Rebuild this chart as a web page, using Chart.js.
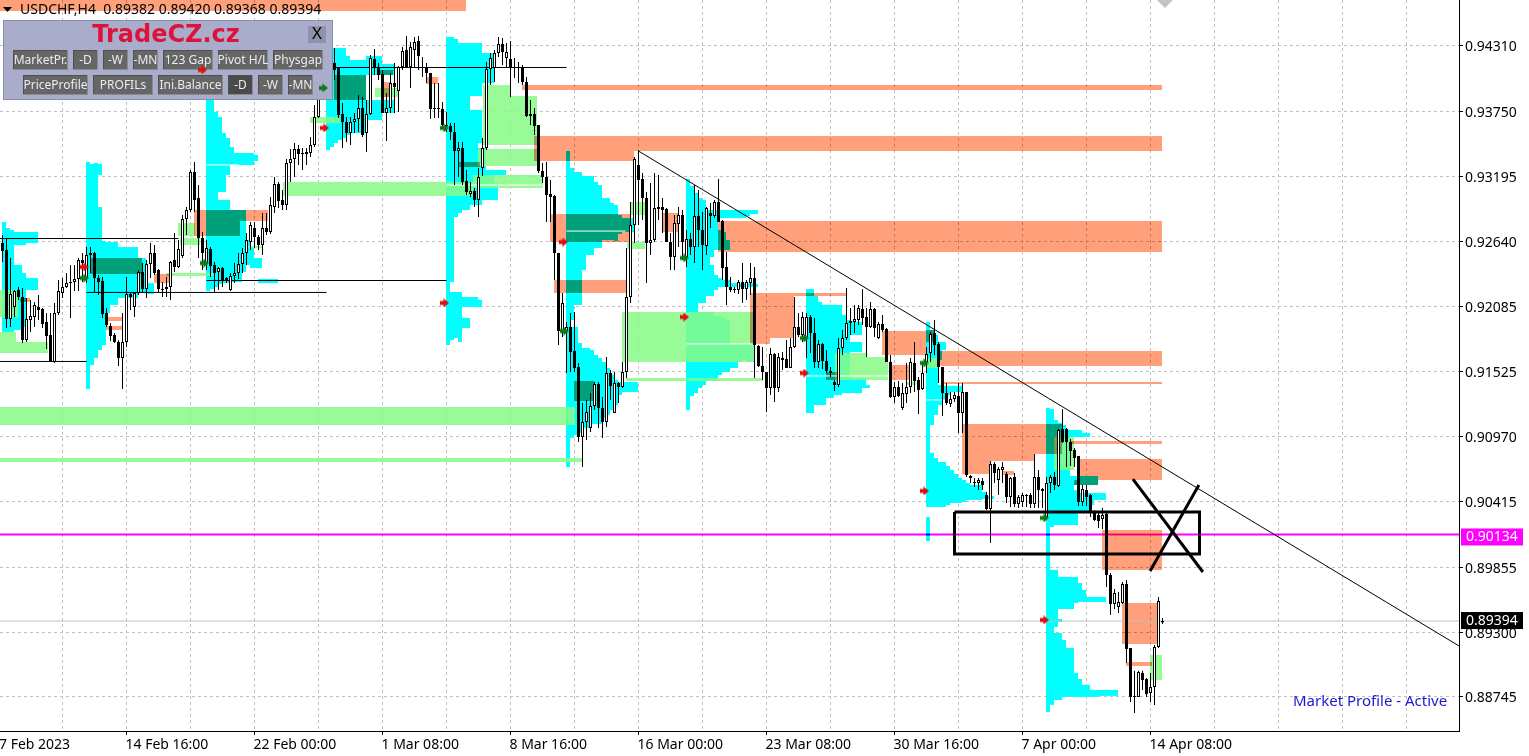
<!DOCTYPE html>
<html>
<head>
<meta charset="utf-8">
<title>USDCHF,H4</title>
<script src="https://cdn.jsdelivr.net/npm/chart.js@4"></script>
<style>
html, body { margin: 0; padding: 0; background: #fff; overflow: hidden; }
canvas { display: block; }
</style>
</head>
<body>
<canvas id="chart" width="1529" height="756"></canvas>
<script>
// all prices below are in points, 1 point = 0.00001
var opens = [92625,92566,91976,92079,92224,92164,91797,91968,91993,92079,92062,91951,91839,91609,92027,92198,92249,92283,92292,92318,92480,92326,92523,92540,92326,92300,92027,91917,91839,91780,91643,91780,92190,92079,92198,92378,92232,92446,92540,92395,92232,92249,92249,92480,92421,92515,92831,92908,93233,93010,92668,92454,92574,92438,92378,92412,92326,92224,92344,92369,92446,92540,92634,92754,92677,92608,92754,92720,92933,93130,92993,92951,93309,93343,93429,93395,93387,93395,93463,93703,93865,94002,94105,94164,94122,93729,93660,93566,93660,93686,93780,93566,93729,94199,94130,94071,93737,93780,93993,93925,94130,94276,94130,94276,94352,94130,94130,94079,93780,93780,93771,93634,93626,93575,93412,93438,93155,93045,93070,92993,93267,93438,94113,94122,94250,94327,94207,94199,94130,94130,94130,94002,93729,93729,93634,93241,93190,93045,93027,92540,91873,91873,91908,91702,91566,90968,91096,91045,91233,91421,91215,91096,91514,91172,91429,91395,91523,92164,92780,93292,93173,93010,92625,92651,92933,92933,92916,92634,92506,92788,92865,92506,92660,92591,92856,92737,92600,92882,92856,92976,92814,92421,92249,92232,92224,92292,92232,92283,92326,91745,91575,91523,91386,91677,91386,91643,91634,91557,91737,91908,91839,91814,91993,91856,91609,91763,91617,91531,91438,91412,91728,91814,91942,91951,91968,92062,91993,91908,92062,91814,91934,91891,91609,91310,91395,91215,91335,91395,91600,91455,91378,91609,91685,91856,91763,91566,91343,91250,91292,91318,91172,91352,90634,90574,90574,90591,90471,90351,90737,90600,90685,90651,90454,90625,90394,90412,90471,90471,90394,90625,90523,90283,90574,90625,90548,91036,91036,90925,90856,90805,90412,90514,90471,90326,90300,90266,90309,89788,89540,89514,89548,89711,89164,88754,88745,88950,88899,88779,88830,89172,89382];
var highs = [92694,92668,92497,92224,92249,92241,92156,92139,92122,92181,92071,92027,92027,92113,92309,92326,92369,92438,92438,92497,92540,92591,92591,92549,92352,92335,92071,91942,91856,91797,92027,92335,92207,92207,92395,92454,92480,92625,92608,92403,92292,92335,92472,92711,92651,92865,92933,93250,93318,93121,92720,92651,92591,92463,92421,92421,92335,92369,92454,92540,92583,92711,92805,92805,92694,92882,92882,93019,93190,93147,93079,93343,93429,93480,93463,93438,93438,93532,93805,93891,94036,94139,94207,94293,94130,93822,93703,93703,93737,93891,93874,93848,94233,94284,94164,94105,93908,94079,94164,94139,94301,94395,94344,94387,94395,94216,94164,94079,93993,93993,93831,93746,93651,93651,93489,93489,93250,93147,93096,93267,93523,94173,94250,94276,94387,94378,94335,94352,94207,94173,94147,94045,93848,93780,93634,93309,93318,93164,93036,92540,92198,91951,92027,92036,91600,91258,91284,91343,91438,91438,91310,91652,91540,91523,91438,91609,92583,92976,93361,93421,93224,93062,93139,93224,93207,93010,92925,92711,92865,92933,92908,92737,92711,93121,93079,92890,92933,92968,92993,93173,92822,92549,92335,92249,92309,92454,92309,92454,92421,91754,91737,91523,91728,91685,91685,91694,91797,91814,92164,92027,92036,92027,92010,91985,91797,91771,91711,91566,91455,91814,91882,92241,92071,92096,92096,92232,92071,92122,92071,91951,92010,91899,91668,91438,91446,91429,91600,91643,91780,91480,91600,91737,91865,91968,91780,91566,91429,91352,91352,91429,91429,91352,90643,90617,90617,90617,90497,90762,90754,90711,90754,90668,90625,90659,90471,90488,90480,90488,90822,90685,90531,90625,90643,90668,91036,91207,91045,90950,90873,90805,90557,90557,90480,90343,90317,90360,90317,89805,89668,89642,89728,89745,89164,88968,88968,88968,88907,88950,89189,89599,89420];
var lows = [92463,91899,91908,91993,92139,91771,91780,91865,91908,91968,91899,91720,91617,91600,92010,92156,92241,91985,92215,92215,92292,92283,92369,92198,92181,91985,91908,91788,91771,91575,91378,91737,92053,91993,92181,92207,92156,92326,92352,92207,92164,92164,92139,92378,92412,92497,92694,92890,92890,92497,92395,92395,92335,92207,92224,92249,92283,92215,92283,92318,92369,92438,92566,92583,92566,92523,92694,92703,92882,92925,92908,92908,93147,93190,93292,93250,93292,93361,93446,93694,93857,93934,94019,94019,93694,93438,93489,93463,93566,93575,93532,93404,93720,94062,94019,93737,93498,93737,93737,93746,94105,94122,93951,94122,94105,94045,93993,93686,93694,93694,93609,93575,93506,93121,93190,93121,93036,93019,92933,92848,93198,93421,93976,94002,94216,94147,94130,93874,94036,93993,93976,93703,93634,93549,93224,93139,92805,92805,92309,91754,91822,91514,91523,91523,90925,90711,90942,91010,91198,91045,90959,91053,91284,91172,91258,91386,91472,92113,92625,92780,92822,92283,92523,92634,92822,92711,92634,92395,92395,92591,92480,92421,92523,92454,92591,92395,92523,92754,92839,92805,92309,92096,92207,92198,92190,92113,92139,92181,91472,91566,91455,91181,91326,91267,91352,91540,91557,91557,91728,91822,91780,91643,91685,91557,91557,91549,91514,91480,91360,91395,91668,91797,91839,91856,91925,91925,91651,91899,91822,91805,91865,91609,91301,91258,91310,91198,91258,91343,91352,91164,91369,91514,91609,91668,91429,91147,91241,91224,91267,91001,91001,90625,90574,90540,90514,90514,90343,90061,90574,90471,90574,90403,90369,90369,90360,90369,90369,90360,90360,90360,90360,90275,90488,90514,90540,90916,90711,90719,90711,90377,90377,90377,90283,90249,90190,90181,89685,89446,89497,89463,89540,89035,88702,88608,88745,88805,88745,88702,88677,89164,89368];
var closes = [92557,91976,92190,92215,92164,91797,91976,92002,92096,92053,91934,91831,91617,92027,92215,92249,92283,92292,92318,92480,92454,92523,92540,92326,92292,92019,91925,91831,91780,91643,91780,92190,92164,92198,92378,92232,92446,92540,92369,92232,92224,92232,92463,92421,92574,92831,92908,93233,92993,92668,92540,92583,92429,92369,92412,92309,92300,92344,92369,92446,92540,92651,92780,92677,92608,92754,92720,92951,93130,92985,92951,93309,93343,93429,93387,93387,93404,93463,93703,93865,94002,94105,94164,94105,93720,93660,93566,93660,93686,93780,93549,93729,94207,94122,94062,93737,93780,93993,93959,94130,94267,94130,94301,94344,94224,94122,94079,93771,93771,93771,93634,93626,93575,93412,93438,93147,93062,93070,92993,93190,93438,94113,94207,94250,94327,94259,94259,94122,94122,94122,94002,93711,93711,93626,93241,93190,93036,93019,92540,91873,92113,91908,91694,91557,90968,91096,91181,91233,91421,91215,91096,91514,91404,91429,91395,91523,92164,92780,93343,93164,93010,92625,92651,92925,92916,92908,92634,92506,92797,92865,92634,92660,92591,92856,92737,92608,92925,92856,92976,92805,92412,92249,92224,92224,92292,92232,92292,92326,91754,91575,91523,91386,91677,91386,91652,91626,91557,91737,91908,91839,91993,91993,91856,91609,91763,91617,91531,91514,91412,91728,91814,91942,91959,91976,92071,91985,91908,92062,91899,91934,91882,91609,91310,91395,91318,91343,91395,91609,91446,91369,91514,91677,91848,91754,91566,91343,91258,91292,91326,91172,91352,90643,90617,90583,90600,90557,90351,90737,90659,90694,90711,90454,90617,90394,90454,90471,90463,90394,90625,90514,90506,90574,90625,90557,91027,90925,90925,90848,90788,90412,90523,90454,90326,90258,90249,90300,89788,89540,89634,89557,89711,89156,88745,88745,88959,88890,88771,88830,89172,89565,89394];

var priceTicks = [0.94310,0.93750,0.93195,0.92640,0.92085,0.91525,0.90970,0.90415,0.89855,0.89300,0.88745];
var dateBars = [-0.625,31,63,95,127,159,191,223,255,287];
var dateLabels = ['7 Feb 2023','14 Feb 16:00','22 Feb 00:00','1 Mar 08:00','8 Mar 16:00','16 Mar 00:00','23 Mar 08:00','30 Mar 16:00','7 Apr 00:00','14 Apr 08:00'];
var gridBars = [15,31,47,63,79,95,111,127,143,159,175,191,207,223,239,255,271,287,303,319,335,351];

// [from bar, to bar, top, bottom]
var orangeZones = [[-1,116,94710,94609],[130,290,93976,93934],[133,290,93540,93412],[133,158,93412,93326],[137,157,92874,92634],[138,156,92309,92198],[165,169,92882,92720],[179,290,92814,92549],[187,192,92198,91763],[192,198,92198,91814],[198,211,92198,92173],[220,231,91873,91668],[222,227,91583,91455],[234,290,91702,91575],[235,290,91438,91421],[240,265,91079,90822],[240,258,90822,90762],[240,247,90762,90651],[250,253,90677,90643],[267,290,90933,90908],[269,290,90780,90600],[268,274,90600,90557],[275,290,90173,89831],[280,288.75,89548,89198],[281,287.5,89044,89010],[48,66.5,92908,92814],[48,59.5,92814,92686],[4.5,7,92156,92122],[26,30,91993,91959],[26,30,91917,91882],[22,35,92497,92361],[38,42,92361,92283],[106,109,94045,93985],[94,97.75,94105,94062],[95,97,94002,93874],[83,91,94062,93848],[114,119.5,93318,93275],[206,208.75,91523,91455],[143,148,91446,91275],[231,233.25,91882,91780]];
var greenZones = [[-1,143.25,91224,91070],[-1,145,90788,90754],[-1,11.5,91780,91685],[-1,3.5,91865,91780],[70.25,117.75,93147,93027],[117.75,135.25,93207,93096],[120.25,127,93976,93882],[120.25,133.75,93882,93463],[119,133.75,93429,93284],[155,188.25,92036,91609],[156,190.25,91472,91446],[157,160.75,92976,92865],[156.25,160.75,92634,92574],[208.25,216,91685,91651],[208.25,221.5,91651,91455],[231.25,234,91643,91557],[226,228.5,91438,91412],[263,268,90968,90685],[287,290,89104,88890],[44,48.25,92797,92686],[44.5,49.5,92668,92608],[77,84.5,93703,93651],[41,52.75,92369,92344],[61.5,65,92600,92583],[93.25,99,93951,93874],[-1,4,92224,91993]];

// market profile columns: [from bar, to bar, top, bottom]
var profileBlocks = [
[0,0,92805,91865],[1,1,92754,91865],[2,2,92737,91865],[3,4,92720,92608],[3,4,92438,91882],[5,5,92720,92608],[5,5,92369,91908],[6,8,92720,92625],[6,8,92326,92224],
[21,21,93318,91378],[22,22,93301,91583],[23,23,93310,91643],[24,24,93301,93207],[24,24,92933,91711],[25,25,92643,91754],[26,26,92634,92027],[27,28,92634,92096],[29,33,92591,92156],[34,35,92497,92198],[36,37,92283,92190],
[51,51,93848,92215],[52,52,93848,92232],[53,53,93746,92249],[54,54,93703,93062],[54,54,92993,92275],[55,55,93566,93062],[55,55,92993,92283],[56,56,93523,93207],[56,56,92993,92283],[57,57,93446,93292],[57,59,92908,92292],[58,60,93395,93292],[60,60,92908,92378],[61,62,93395,93292],[61,61,92651,92438],[62,62,92583,92412],[63,63,93378,93326],[63,64,92497,92412],[64,68,92318,92283],
[81,81,94293,93421],[82,82,94293,93446],[83,83,94293,93480],[84,84,94293,93506],[85,85,94293,93523],[86,86,94224,93549],[87,90,94190,93566],[91,94,94224,94062],[91,94,93848,93677],[95,97,94156,94062],[95,97,93848,93737],
[111,111,94387,91754],[112,112,94387,92292],[112,112,92207,91797],[113,113,94370,92848],[113,113,92207,91814],[114,114,94335,92882],[114,114,92207,91780],[115,116,94335,92908],[115,118,92164,92079],[115,116,91985,91899],[117,118,94335,93882],[117,118,93763,92951],[119,119,94335,93882],[119,119,93763,93480],[119,119,93438,92951],[119,119,92139,92079],[120,120,94250,93993],[120,120,93438,92993],[121,122,94250,93993],[121,122,93250,92993],[123,123,93250,93207],[123,123,93139,92993],[124,125,93250,93207],
[141,141,93412,90711],[142,142,93267,91968],[142,142,91908,90959],[143,143,93233,92096],[143,143,91908,90985],[144,144,93233,92096],[144,144,91771,91001],[145,145,93198,92395],[145,146,91728,91045],[146,147,93198,92523],[147,147,91711,91079],[148,148,93147,92583],[148,148,91668,91079],[149,149,93121,92583],[149,149,91643,91079],[150,150,93010,92651],[150,150,91609,91130],[151,151,93010,92651],[151,151,91557,91156],[152,152,92968,92651],[152,152,91497,91198],[153,153,92951,92643],[153,153,91455,91241],[154,154,92865,92703],[154,154,91438,91326],[155,157,92839,92720],[155,158,91438,91352],
[171,171,93173,91198],[172,172,93113,91318],[173,173,93053,91343],[174,174,93010,92113],[174,174,92036,91386],[175,175,92993,92113],[175,175,92036,91412],[176,176,92908,92173],[176,177,92036,91446],[177,177,92908,92506],[177,177,92438,92173],[178,178,92908,92566],[178,178,92352,92224],[178,178,92002,91446],[179,185,92908,92839],[179,179,92737,92566],[179,179,92326,92249],[179,179,92002,91497],[180,180,92720,92566],[180,181,92309,92249],[180,180,91985,91523],[181,181,92651,92566],[181,181,91968,91523],[182,187,92283,92249],[182,183,91763,91557],[184,184,91763,91609],[185,185,91763,91626],[186,186,92908,92856],[186,187,91763,91609],[187,188,92908,92873],[188,188,92275,92249],
[201,202,92232,91172],[203,203,92173,91241],[204,204,92122,91241],[205,205,92096,91241],[206,207,92096,91301],[208,209,92096,91326],[210,210,92010,91343],[211,211,91968,91343],[212,214,91951,91839],[212,214,91780,91694],[212,214,91472,91343],[215,215,91472,91386],[216,216,91412,91386],
[231,231,91951,90369],[231,231,90283,90078],[232,232,91882,91070],[232,232,90831,90369],[233,233,91839,91156],[233,233,90788,90369],[234,234,91780,91626],[234,234,91412,91241],[234,235,90754,90369],[235,235,91780,91711],[235,235,91404,91284],[236,236,91404,91326],[236,236,90720,90386],[237,239,91404,91352],[237,237,90685,90403],[238,238,90651,90403],[239,239,90617,90403],[240,240,90600,90412],[241,241,90574,90429],[242,244,90557,90429],[245,245,90497,90437],[246,247,90463,90437],
[261,261,91215,88617],[262,262,91207,90198],[262,262,89831,88677],[263,263,91113,90215],[263,263,89831,89343],[263,263,89292,88719],[264,264,91087,90215],[264,266,89771,89497],[264,264,89412,89386],[264,264,89292,88719],[265,265,91070,90215],[265,265,89232,88745],[266,266,91027,90215],[266,267,89164,88745],[267,268,91027,90968],[267,267,90634,90215],[267,267,89771,89497],[268,272,90634,90557],[268,268,90514,90215],[268,268,89771,89548],[268,268,88950,88745],[269,271,90488,90326],[269,269,91027,90968],[269,269,89720,89557],[269,269,88899,88745],[270,271,91002,90968],[270,270,89660,89557],[270,271,88848,88745],[271,275,89600,89557],[272,272,90488,90386],[272,273,88805,88745],[273,273,90634,90557],[273,275,90488,90429],[274,278,88805,88754]
];

// white gaps inside the profiles: [from bar, to bar, level]
var profileGaps = [[141,155.75,92728],[171,188.25,91763],[111,135,93121],[201,221.5,91489],[51,59,93293],[231,236,91284]];
// thin black levels: [from bar, to bar, level]
var levelLines = [[-1,44,92664],[21,81,92203],[51,111,92305],[81,141,94126],[-1,21,91613]];
var redArrowBars = [50,80.5,20.5,110.5,140.25,170.5,200.5,230.5,260.5];
var redArrowPrices = [94105,93609,92421,92113,92634,91993,91514,90506,89403];
var greenArrowBars = [80.25,20.5,50.5,110.5,140.5,170.5,200.5,230.5,260.5];
var greenArrowPrices = [93951,92326,92454,93609,91873,92498,91814,91600,90275];
var closePrice = 0.89394;
var magentaPrice = 0.90134;

var PX_PER_BAR = 4;
function pr(v) { return v / 100000; }

var panelButtons = [
    ['MarketPr.',13,50,55,20],['-D',73,50,25,20],['-W',103,50,25,20],['-MN',133,50,25,20],['123 Gap',163,50,50,20],['Pivot H/L',218,50,50,20],['Physgap',273,50,50,20],
    ['PriceProfile',23,75,65,20],['PROFILs',93,75,60,20],['Ini.Balance',158,75,65,20],['-D',228,75,25,20,true],['-W',258,75,25,20],['-MN',288,75,25,20]
];

function makeArrow(color) {
    var c = document.createElement('canvas');
    c.width = 9; c.height = 9;
    var g = c.getContext('2d');
    g.fillStyle = color;
    g.beginPath();
    g.moveTo(0,2.5); g.lineTo(3.5,2.5); g.lineTo(3.5,0); g.lineTo(9,4.5); g.lineTo(3.5,9); g.lineTo(3.5,6.5); g.lineTo(0,6.5);
    g.closePath();
    g.fill();
    return c;
}

function zoneDataset(z, color, order, blend) {
    return {
        data: [{ x: (z[0] + z[1]) / 2 - 0.125, y: [pr(z[2]), pr(z[3])] }],
        barThickness: (z[1] - z[0]) * PX_PER_BAR,
        backgroundColor: color,
        borderWidth: 0,
        inflateAmount: 0,
        stack: 'all',
        order: order,
        blend: blend
    };
}

function lineDataset(points, color, width, order, blend) {
    return {
        type: 'line',
        data: points,
        borderColor: color,
        borderWidth: width,
        pointRadius: 0,
        fill: false,
        tension: 0,
        order: order,
        blend: blend
    };
}

function levelDataset(from, to, level, color, width, order, blend) {
    return lineDataset([{ x: from, y: level }, { x: to, y: level }], color, width, order, blend);
}

function arrowDataset(bars, prices, color, order, withPanel) {
    return {
        type: 'line',
        showLine: false,
        data: bars.map(function(b, i) { return { x: b, y: pr(prices[i]) }; }),
        pointStyle: makeArrow(color),
        pointRadius: 4,
        order: order,
        withPanel: withPanel
    };
}

var profileData = [];
profileBlocks.forEach(function(b) {
    for (var k = b[0]; k <= b[1]; k++) {
        profileData.push({ x: k + 0.375, y: [pr(b[2]), pr(b[3])] });
    }
});

var datasets = [];
datasets.push({ data: profileData, barThickness: PX_PER_BAR, backgroundColor: '#00ffff', borderWidth: 0, inflateAmount: 0, stack: 'all', order: 50 });
greenZones.forEach(function(z) { datasets.push(zoneDataset(z, 'rgba(134,250,134,0.85)', 40)); });
orangeZones.forEach(function(z) { datasets.push(zoneDataset(z, '#ffa07a', 30, 'multiply')); });
profileGaps.forEach(function(l) { datasets.push(levelDataset(l[0], l[1], pr(l[2]), '#ffffff', 1, 25)); });
datasets.push(levelDataset(-1, 365, closePrice, '#c0c0c0', 1, 24));
levelLines.forEach(function(l) { datasets.push(levelDataset(l[0], l[1], pr(l[2]), '#000000', 1, 20)); });
datasets.push(levelDataset(-1, 365, magentaPrice, '#ff00ff', 2, 10, 'multiply'));
datasets.push({
    data: opens.map(function(o, i) { return { x: i, y: [pr(lows[i]), pr(highs[i])] }; }),
    barThickness: 1, backgroundColor: '#000000', borderWidth: 0, inflateAmount: 0, stack: 'all', order: 6
});
datasets.push({
    data: opens.map(function(o, i) { return { x: i, y: [pr(o), pr(closes[i])] }; }),
    barThickness: 3,
    backgroundColor: opens.map(function(o, i) { return closes[i] >= o ? '#ffffff' : '#000000'; }),
    borderColor: '#000000', borderWidth: 1, borderSkipped: false, inflateAmount: 0, stack: 'all', order: 5
});
// trend line, box and the cross
datasets.push(lineDataset([{ x: 159, y: pr(93412) }, { x: 364.125, y: pr(89181) }], '#000000', 1, 4));
datasets.push(lineDataset([{ x: 238, y: pr(90326) }, { x: 299.25, y: pr(90326) }, { x: 299.25, y: pr(89968) }, { x: 238, y: pr(89968) }, { x: 238, y: pr(90326) }], '#000000', 3, 3));
datasets.push(lineDataset([{ x: 282.6, y: pr(90608) }, { x: 300.1, y: pr(89813) }], '#000000', 3, 3));
datasets.push(lineDataset([{ x: 299.1, y: pr(90557) }, { x: 286.9, y: pr(89822) }], '#000000', 3, 3));
datasets.push({ type: 'line', showLine: false, data: [{ x: 290.6, y: 0.94703 }], pointStyle: 'rectRot', pointRadius: 8, backgroundColor: '#c4c4c4', borderWidth: 0, order: 2 });
datasets.push(arrowDataset(redArrowBars, redArrowPrices, '#e01010', -1, true));
datasets.push(arrowDataset(greenArrowBars, greenArrowPrices, '#0a7a1a', -2));

function drawPanel(ctx) {
    ctx.save();
    ctx.textBaseline = 'middle';
    ctx.fillStyle = '#000';
    ctx.beginPath();
    ctx.moveTo(3, 7); ctx.lineTo(12, 7); ctx.lineTo(7.5, 12);
    ctx.closePath();
    ctx.fill();
    ctx.font = '14px "Noto Sans"';
    ctx.textAlign = 'left';
    ctx.fillText('USDCHF,H4  0.89382 0.89420 0.89368 0.89394', 20, 10.5);

    ctx.fillStyle = '#a9adcb';
    ctx.fillRect(3, 20, 330, 80);
    ctx.strokeStyle = '#8a8da8';
    ctx.strokeRect(3.5, 20.5, 329, 79);

    ctx.fillStyle = '#dc143c';
    ctx.font = 'bold 24px "DejaVu Sans"';
    ctx.textAlign = 'center';
    ctx.fillText('TradeCZ.cz', 166, 36);

    ctx.fillStyle = '#8f92a8';
    ctx.fillRect(308, 26, 18, 17);
    ctx.fillStyle = '#000';
    ctx.font = '17px "Noto Sans"';
    ctx.fillText('X', 317, 34);

    ctx.font = '12px "Noto Sans"';
    panelButtons.forEach(function(b) {
        ctx.fillStyle = '#8b8b8b';
        ctx.fillRect(b[1], b[2], b[3], b[4]);
        ctx.fillStyle = '#505050';
        ctx.fillRect(b[1], b[2], b[3] - 1, b[4] - 1);
        ctx.fillStyle = b[5] ? '#4a4a4a' : '#666666';
        ctx.fillRect(b[1] + 1, b[2] + 1, b[3] - 2, b[4] - 2);
        ctx.fillStyle = '#ececec';
        ctx.fillText(b[0], b[1] + b[3] / 2, b[2] + b[4] / 2 + 0.5);
    });
    ctx.restore();
}

function priceBox(ctx, y, text, back) {
    ctx.fillStyle = back;
    ctx.fillRect(1461, y - 8, 62, 17);
    ctx.fillStyle = '#fff';
    ctx.textAlign = 'left';
    ctx.fillText(text, 1466, y + 1);
}

var overlayPlugin = {
    id: 'overlay',
    beforeDatasetDraw: function(chart, args) {
        var ds = chart.data.datasets[args.index];
        if (ds.withPanel) drawPanel(chart.ctx);
        if (ds.blend) chart.ctx.globalCompositeOperation = ds.blend;
    },
    afterDatasetDraw: function(chart, args) {
        chart.ctx.globalCompositeOperation = 'source-over';
    },
    afterDraw: function(chart) {
        var ctx = chart.ctx;
        var yScale = chart.scales.y;
        ctx.save();
        ctx.font = '14px "Noto Sans"';
        ctx.textBaseline = 'middle';
        priceBox(ctx, yScale.getPixelForValue(magentaPrice) + 2, magentaPrice.toFixed(5), '#ff00ff');
        priceBox(ctx, yScale.getPixelForValue(closePrice) - 1, closePrice.toFixed(5), '#000000');
        ctx.fillStyle = '#1a1acd';
        ctx.font = '15px "Noto Sans"';
        ctx.fillText('Market Profile - Active', 1293, 702);
        ctx.restore();
    }
};

new Chart(document.getElementById('chart').getContext('2d'), {
    type: 'bar',
    data: { datasets: datasets },
    plugins: [overlayPlugin],
    options: {
        responsive: false,
        devicePixelRatio: 1,
        animation: false,
        events: [],
        layout: { autoPadding: false, padding: 0 },
        plugins: { legend: { display: false }, tooltip: { enabled: false }, title: { display: false } },
        scales: {
            x: {
                type: 'linear',
                min: -0.625,
                max: 364.125,
                offset: false,
                afterBuildTicks: function(scale) {
                    scale.ticks = [dateBars[0]].concat(gridBars).map(function(v) { return { value: v }; });
                },
                afterFit: function(scale) {
                    scale.height = 25;
                    scale.paddingLeft = 0;
                    scale.paddingRight = 0;
                },
                grid: {
                    offset: false,
                    tickLength: 4,
                    color: function(c) { return c.index === 0 ? 'rgba(0,0,0,0)' : '#c0c0c0'; },
                    tickColor: function(c) { return c.tick && dateBars.indexOf(c.tick.value) > 0 ? '#000000' : 'rgba(0,0,0,0)'; }
                },
                border: { color: '#000000', width: 1, dash: [3, 3] },
                ticks: {
                    autoSkip: false,
                    maxRotation: 0,
                    align: 'start',
                    padding: 2,
                    labelOffset: -1,
                    color: '#000000',
                    font: { family: '"Noto Sans"', size: 14 },
                    callback: function(v) {
                        var i = dateBars.indexOf(v);
                        return i < 0 ? '' : dateLabels[i];
                    }
                }
            },
            y: {
                type: 'linear',
                position: 'right',
                stacked: false,
                min: 0.88454,
                max: 0.94703,
                afterBuildTicks: function(scale) {
                    scale.ticks = priceTicks.map(function(v) { return { value: v }; });
                },
                afterFit: function(scale) {
                    scale.width = 70;
                    scale.paddingTop = 0;
                    scale.paddingBottom = 0;
                },
                grid: { tickLength: 4, color: '#c0c0c0', tickColor: '#000000' },
                border: { color: '#000000', width: 1, dash: [3, 3] },
                ticks: {
                    autoSkip: false,
                    padding: 2,
                    labelOffset: 1.5,
                    color: '#000000',
                    font: { family: '"Noto Sans"', size: 14 },
                    callback: function(v) { return v.toFixed(5); }
                }
            }
        }
    }
});
</script>
</body>
</html>
